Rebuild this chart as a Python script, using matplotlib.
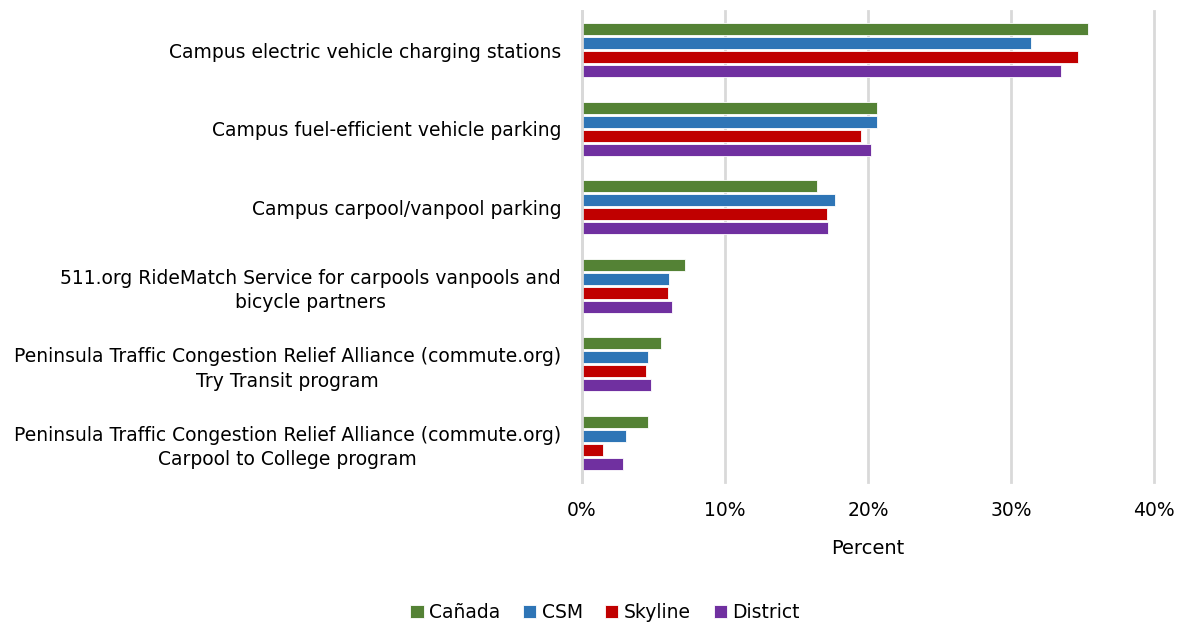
import matplotlib.pyplot as plt
import numpy as np

# survey categories (top to bottom)
categories = [
    "Campus electric vehicle charging stations",
    "Campus fuel-efficient vehicle parking",
    "Campus carpool/vanpool parking",
    "511.org RideMatch Service for carpools vanpools and\nbicycle partners",
    "Peninsula Traffic Congestion Relief Alliance (commute.org)\nTry Transit program",
    "Peninsula Traffic Congestion Relief Alliance (commute.org)\nCarpool to College program",
]

canada = [35.4, 20.6, 16.4, 7.2, 5.5, 4.6]
csm = [31.4, 20.6, 17.7, 6.1, 4.6, 3.1]
skyline = [34.7, 19.5, 17.1, 6.0, 4.5, 1.45]
district = [33.5, 20.2, 17.2, 6.3, 4.8, 2.85]

series = ["Cañada", "CSM", "Skyline", "District"]
colors = ["#548235", "#2E75B6", "#C00000", "#7030A0"]

fig = plt.figure(figsize=(11.82, 6.26), dpi=100)
ax = fig.add_axes([0.4924, 0.230, 0.4839, 0.7524])

y = np.arange(len(categories))
pitch = 0.178
for i, (vals, name, col) in enumerate(zip([canada, csm, skyline, district], series, colors)):
    off = (i - 1.5) * pitch
    ax.barh(y + off, vals, height=0.15, color=col, label=name,
            edgecolor="white", linewidth=0.6)

ax.set_xlim(0, 40)
ax.set_ylim(5.5, -0.5)
ax.set_xticks([0, 10, 20, 30, 40])
ax.set_xticklabels(["0%", "10%", "20%", "30%", "40%"], fontsize=13.5)
ax.set_yticks(y)
ax.set_yticklabels(categories, fontsize=13.5, linespacing=1.35)
for lbl in ax.get_yticklabels():
    lbl.set_multialignment("center")
ax.tick_params(axis="y", length=0, pad=15)
ax.tick_params(axis="x", length=0, pad=14)
ax.grid(axis="x", color="#d9d9d9", linewidth=2)
for gl in ax.get_xgridlines():
    gl.set_clip_on(False)
ax.set_axisbelow(True)
for s in ["top", "right", "bottom"]:
    ax.spines[s].set_visible(False)
ax.spines["left"].set_color("#d9d9d9")
ax.spines["left"].set_linewidth(2)
ax.set_xlabel("Percent", fontsize=14, labelpad=13)

fig.legend(loc="center", bbox_to_anchor=(0.512, 0.021), ncol=4, frameon=False,
           fontsize=13.5, handlelength=0.7, handleheight=0.7, handletextpad=0.3,
           columnspacing=1.2)

fig.savefig("out.png", dpi=100)
